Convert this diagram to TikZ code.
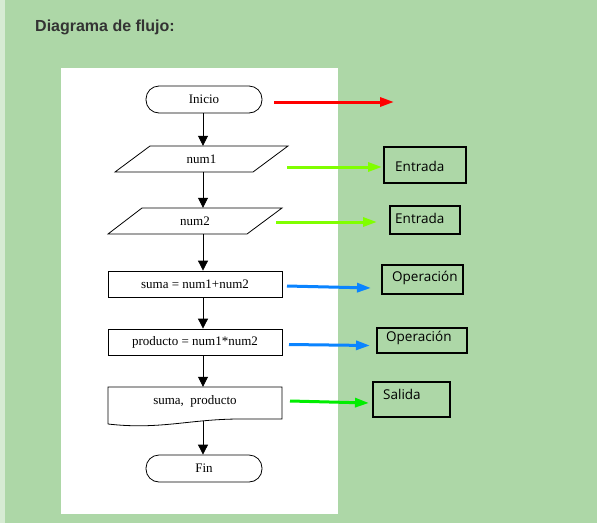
\documentclass[tikz,border=0pt]{standalone}
\usepackage{fontspec}
\setmainfont{Liberation Serif}
\newfontfamily\titlefont{Liberation Sans}
\newfontfamily\labelfont{Open Sans}
\usetikzlibrary{arrows.meta}
\definecolor{bggreen}{HTML}{ADD7A7}
\definecolor{strip}{HTML}{D6EBD3}
\definecolor{titlegray}{HTML}{333333}
\definecolor{lime}{HTML}{80FF00}
\definecolor{bluearr}{HTML}{0A84FF}
\definecolor{greenarr}{HTML}{00EE00}
\tikzset{
  flow/.style={draw=black, line width=0.8pt, inner sep=0pt, font=\fontsize{13}{15}\selectfont},
  plain/.style={inner sep=0pt, font=\fontsize{13}{15}\selectfont},
  term/.style={flow, rounded corners=13pt, minimum width=116pt, minimum height=27pt},
  proc/.style={flow, minimum width=174pt, minimum height=26pt},
  conn/.style={line width=0.8pt, -{Triangle[length=10pt,width=10pt]}},
  tag/.style={draw=black, line width=2.6pt, inner sep=0pt, anchor=north west},
  tagtext/.style={anchor=west, inner sep=0pt, font=\labelfont\fontsize{13.5}{16}\selectfont},
  side/.style={line width=3pt, -{Triangle[length=14pt,width=9pt]}},
}
\begin{document}
\begin{tikzpicture}[x=1pt, y=-1pt]
\useasboundingbox (0,0) rectangle (597,523);
\fill[bggreen] (0,0) rectangle (597,523);
\fill[strip] (0,0) rectangle (5,523);
\fill[white] (61,68) rectangle (338,514);
\node[anchor=base west, inner sep=0pt, text=titlegray, font=\titlefont\bfseries\fontsize{16}{19}\selectfont] (title) at (35,31) {Diagrama de flujo:};

% flowchart
\node[term] (inicio) at (204,99.5) {Inicio};
\draw[line width=0.8pt] (150,146) -- (288,146) -- (253,172) -- (115,172) -- cycle;
\node[plain, minimum width=138pt, minimum height=26pt] (num1) at (201.5,159) {num1};
\draw[line width=0.8pt] (142,208) -- (282,208) -- (247,234) -- (108,234) -- cycle;
\node[plain, minimum width=140pt, minimum height=26pt] (num2) at (195,221) {num2};
\node[proc] (suma) at (195,284) {suma = num1+num2};
\node[proc] (prod) at (195,342) {producto = num1*num2};
\draw[line width=0.8pt] (108,424) -- (108,387) -- (282,387) -- (282,419) -- (240,419)
  .. controls (190,419) and (160,430) .. (108,424);
\node[plain, minimum width=174pt, minimum height=32pt] (salida) at (195,403) {};
\node[plain] (salidatxt) at (195,401) {suma,\ \ producto};
\node[term] (fin) at (204,468.5) {Fin};

\draw[conn] (inicio.south -| 203,0) -- (num1.north -| 203,0);
\draw[conn] (num1.south -| 203,0) -- (num2.north -| 203,0);
\draw[conn] (num2.south -| 203,0) -- (suma.north -| 203,0);
\draw[conn] (suma.south -| 203,0) -- (prod.north -| 203,0);
\draw[conn] (prod.south -| 203,0) -- (salida.north -| 203,0);
\coordinate (salbot) at (203,421);
\draw[conn] (salbot) -- (fin.north -| 203,0);

% side labels
\draw[tag] (384,147) rectangle (466,183);
\node[tagtext] (t1) at (395,166) {Entrada};
\draw[tag] (390,206) rectangle (460,234);
\node[tagtext] (t2) at (395,218) {Entrada};
\draw[tag] (382,265) rectangle (463,294);
\node[tagtext] (t3) at (392,278) {Operación};
\draw[tag] (377,328) rectangle (467,353);
\node[tagtext] (t4) at (386,338) {Operación};
\draw[tag] (373,382) rectangle (450,417);
\node[tagtext] (t5) at (383,394) {Salida};

\coordinate (redend) at (394,102);
\draw[side, red] (inicio.east -| 274,0) ++(0,2.5) -- (redend);
\coordinate (g1s) at (287,167); \coordinate (g1e) at (382,167);
\draw[side, lime] (g1s) -- (g1e);
\coordinate (g2s) at (276,222); \coordinate (g2e) at (377,222);
\draw[side, lime] (g2s) -- (g2e);
\coordinate (b1s) at (287,286); \coordinate (b1e) at (371,288);
\draw[side, bluearr] (b1s) -- (b1e);
\coordinate (b2s) at (289,344.5); \coordinate (b2e) at (370,345.5);
\draw[side, bluearr] (b2s) -- (b2e);
\coordinate (g3s) at (290,401); \coordinate (g3e) at (369,403);
\draw[side, greenarr] (g3s) -- (g3e);
\end{tikzpicture}
\end{document}
